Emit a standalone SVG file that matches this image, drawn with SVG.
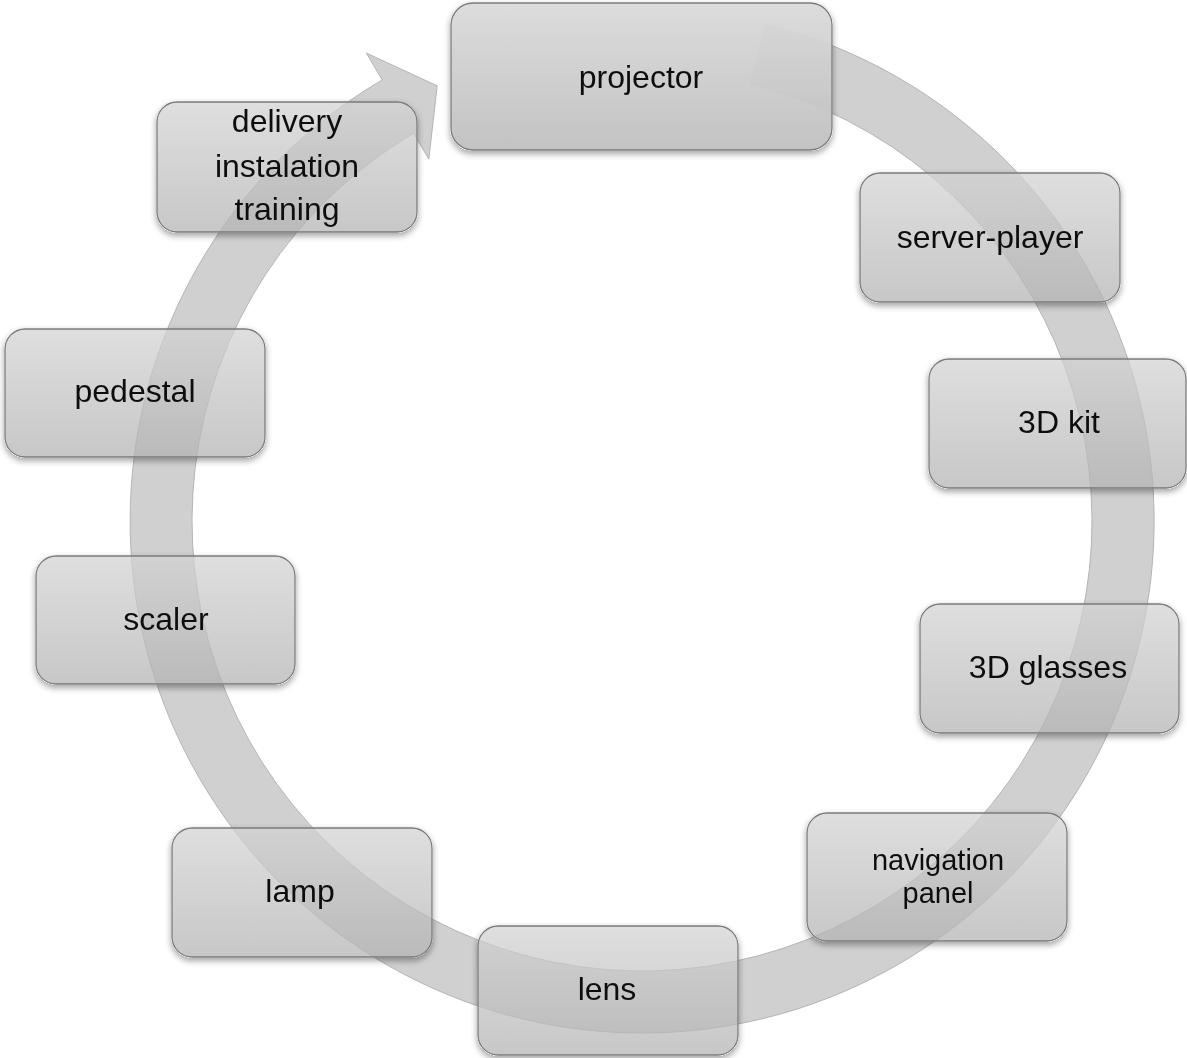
<svg xmlns="http://www.w3.org/2000/svg" width="1187" height="1058" viewBox="0 0 1187 1058">
<defs>
<linearGradient id="g" x1="0" y1="0" x2="0" y2="1">
<stop offset="0" stop-color="#d2d2d2"/>
<stop offset="1" stop-color="#b2b2b2"/>
</linearGradient>
<linearGradient id="gp" x1="0" y1="0" x2="0" y2="1">
<stop offset="0" stop-color="#dadada"/>
<stop offset="1" stop-color="#bfbfbf"/>
</linearGradient>
<filter id="sh" x="-10%" y="-10%" width="120%" height="130%">
<feComponentTransfer in="SourceAlpha" result="a"><feFuncA type="linear" slope="20"/></feComponentTransfer>
<feGaussianBlur in="a" stdDeviation="3" result="b"/>
<feOffset in="b" dy="3" result="o"/>
<feComposite in="o" in2="a" operator="out" result="s"/>
<feColorMatrix in="s" type="matrix" values="0 0 0 0 0  0 0 0 0 0  0 0 0 0 0  0 0 0 0.35 0"/>
<feMerge><feMergeNode/><feMergeNode in="SourceGraphic"/></feMerge>
</filter>
</defs>
<style>
.box{fill:url(#g);fill-opacity:0.72;stroke:#7a7a7a;stroke-width:1.3}
.t{font-family:"Liberation Sans",Arial,sans-serif;font-size:32px;fill:#111;text-anchor:middle}
.band{fill:#d0d0d0;stroke:#b4b4b4;stroke-width:1}
</style>
<rect width="1187" height="1058" fill="#ffffff"/>
<g id="connectors">
<path class="band" d="M765.9,24.2 A512,512 0 1 1 382.2,79.9 L366.4,53.1 L437.2,85.8 L428.8,159.1 L413.6,133.3 A450,450 0 1 0 750.9,84.4 Z"/>
</g>
<g id="projector" filter="url(#sh)"><rect class="box" x="451" y="3" width="381" height="147" rx="22" style="fill:url(#gp);fill-opacity:0.94"/><text class="t" x="641" y="88">projector</text></g>
<g id="server-player" filter="url(#sh)"><rect class="box" x="860" y="173" width="260" height="129" rx="20"/><text class="t" x="990" y="248">server-player</text></g>
<g id="kit3d" filter="url(#sh)"><rect class="box" x="929" y="359" width="257" height="129" rx="20"/><text class="t" x="1059" y="433">3D kit</text></g>
<g id="glasses3d" filter="url(#sh)"><rect class="box" x="920" y="604" width="259" height="129" rx="20"/><text class="t" x="1048" y="678">3D glasses</text></g>
<g id="navigation-panel" filter="url(#sh)"><rect class="box" x="807" y="813" width="260" height="128" rx="20"/><text class="t" x="938" y="870" style="font-size:29px">navigation</text><text class="t" x="938" y="903" style="font-size:29px">panel</text></g>
<g id="lens" filter="url(#sh)"><rect class="box" x="478" y="926" width="260" height="129" rx="20"/><text class="t" x="607" y="1000">lens</text></g>
<g id="lamp" filter="url(#sh)"><rect class="box" x="172" y="828" width="260" height="129" rx="20"/><text class="t" x="300" y="902">lamp</text></g>
<g id="scaler" filter="url(#sh)"><rect class="box" x="36" y="556" width="259" height="128" rx="20"/><text class="t" x="166" y="630">scaler</text></g>
<g id="pedestal" filter="url(#sh)"><rect class="box" x="5" y="329" width="260" height="128" rx="20"/><text class="t" x="135" y="402">pedestal</text></g>
<g id="delivery" filter="url(#sh)"><rect class="box" x="157" y="102" width="260" height="130" rx="20"/><text class="t" x="287" y="132">delivery</text><text class="t" x="287" y="177">instalation</text><text class="t" x="287" y="220">training</text></g>
</svg>
